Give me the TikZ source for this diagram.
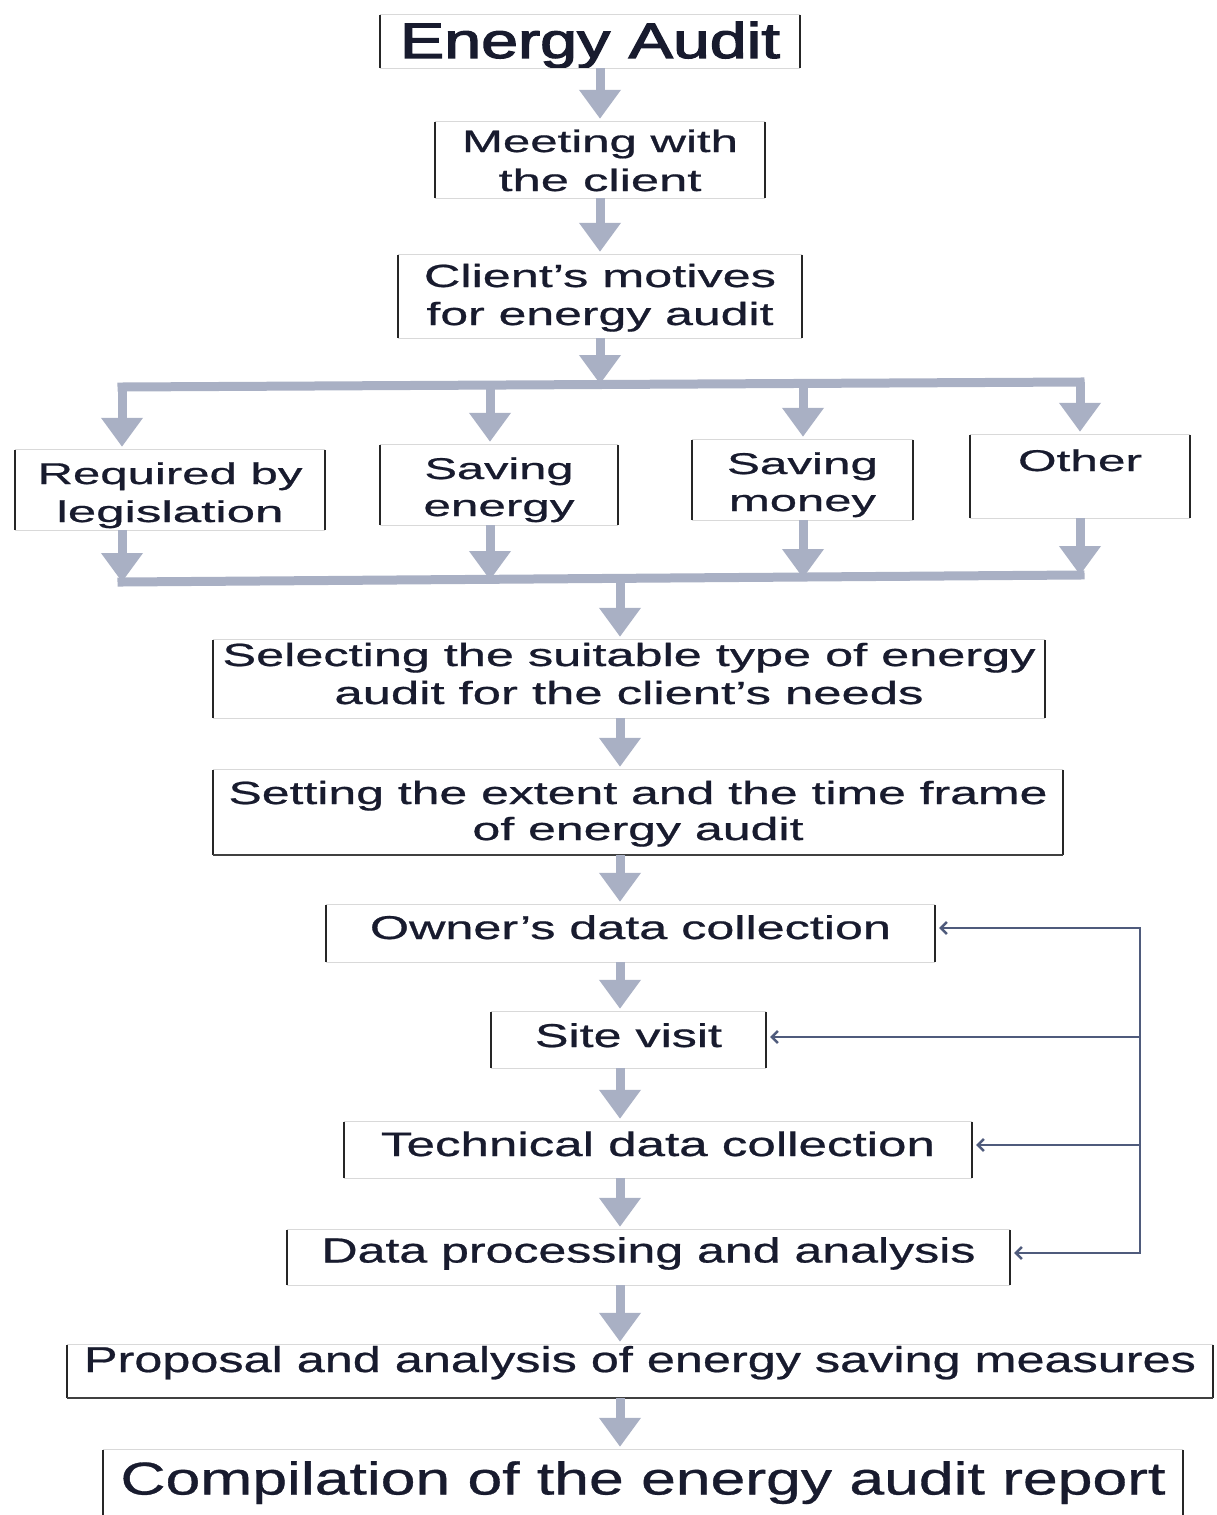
\documentclass[tikz,border=0pt]{standalone}
\usepackage{fontspec}
\setmainfont{Liberation Sans}[FakeBold=0.6]
\newfontfamily\titlefont{Liberation Sans}[FakeBold=2.2]
\usetikzlibrary{arrows.meta}
\definecolor{arrowc}{HTML}{A9B0C4}
\definecolor{txt}{HTML}{181B2E}
\definecolor{fbc}{HTML}{4F5B7C}
\newcommand{\fitw}[2]{\resizebox{#1}{\height}{#2}}
% one line, baseline raised by #1 above the box centre
\newcommand{\oneline}[2]{\raisebox{#1}[0pt][0pt]{#2}}
% two lines, baseline of the last line raised by #1 above the box centre
\newcommand{\twoline}[3]{\raisebox{#1}[0pt][0pt]{\begin{tabular}[b]{@{}c@{}}#2\\#3\end{tabular}}}
\begin{document}
\begin{tikzpicture}[x=1pt,y=-1pt,
 box/.style={inner sep=0pt, text=txt, font=\fontsize{32pt}{38pt}\selectfont},
 side/.style={draw=black!85, line width=1.8pt},
 faint/.style={draw=black!15, line width=1.2pt},
 darkbot/.style={draw=black!75, line width=1.5pt},
 big/.style={draw=arrowc, line width=9pt, -{Triangle[width=40pt,length=29pt]}, shorten >=3pt},
 bar/.style={draw=arrowc, line width=9pt, line cap=rect},
 fb/.style={draw=fbc, line width=2.4pt},
 fbarrow/.style={fb, -{Straight Barb[length=6pt,width=12pt]}, shorten >=4pt}]
\fill[white] (0,0) rectangle (1216,1515);
\useasboundingbox (0,0) rectangle (1216,1515);

% boxes
\node[box, minimum width=420pt, minimum height=53pt, font=\titlefont\fontsize{50pt}{60pt}\selectfont] (ea) at (590,41.5) {\oneline{-16.5pt}{\fitw{380pt}{Energy Audit}}};
\node[box, minimum width=330pt, minimum height=76pt, font=\fontsize{31pt}{39pt}\selectfont] (mc) at (600,160) {\twoline{-31pt}{\fitw{276pt}{Meeting with}}{\fitw{203pt}{the client}}};
\node[box, minimum width=404pt, minimum height=83pt, font=\fontsize{32pt}{38pt}\selectfont] (cm) at (600,296.5) {\twoline{-28.5pt}{\fitw{352pt}{Client’s motives}}{\fitw{347pt}{for energy audit}}};

\node[box, minimum width=310pt, minimum height=80pt, font=\fontsize{30pt}{38pt}\selectfont] (r1) at (170,490) {\twoline{-32pt}{\fitw{265pt}{Required by}}{\fitw{227pt}{legislation}}};
\node[box, minimum width=238pt, minimum height=80pt, font=\fontsize{30pt}{37pt}\selectfont] (r2) at (499,485) {\twoline{-31pt}{\fitw{149pt}{Saving}}{\fitw{151pt}{energy}}};
\node[box, minimum width=221pt, minimum height=80pt, font=\fontsize{30pt}{37pt}\selectfont] (r3) at (802.5,480) {\twoline{-31pt}{\fitw{151pt}{Saving}}{\fitw{147pt}{money}}};
\node[box, minimum width=220pt, minimum height=83pt, font=\fontsize{30pt}{38pt}\selectfont] (r4) at (1080,476.5) {\oneline{5.5pt}{\fitw{124pt}{Other}}};

\node[box, minimum width=832pt, minimum height=78pt, font=\fontsize{32pt}{38pt}\selectfont] (sel) at (629,679) {\twoline{-25pt}{\fitw{813pt}{Selecting the suitable type of energy}}{\fitw{589pt}{audit for the client’s needs}}};
\node[box, minimum width=850pt, minimum height=85pt, font=\fontsize{32pt}{36pt}\selectfont] (set) at (638,812.5) {\twoline{-27.5pt}{\fitw{819pt}{Setting the extent and the time frame}}{\fitw{331pt}{of energy audit}}};
\node[box, minimum width=609pt, minimum height=57pt, font=\fontsize{33pt}{38pt}\selectfont] (own) at (630.5,933.5) {\oneline{-5.5pt}{\fitw{521pt}{Owner’s data collection}}};
\node[box, minimum width=275pt, minimum height=56pt, font=\fontsize{33pt}{38pt}\selectfont] (site) at (628.5,1040) {\oneline{-7pt}{\fitw{187pt}{Site visit}}};
\node[box, minimum width=628pt, minimum height=56pt, font=\fontsize{34pt}{38pt}\selectfont] (tech) at (658,1150) {\oneline{-6pt}{\fitw{554pt}{Technical data collection}}};
\node[box, minimum width=723pt, minimum height=55pt, font=\fontsize{35pt}{38pt}\selectfont] (dp) at (648.5,1257.5) {\oneline{-5pt}{\fitw{654pt}{Data processing and analysis}}};
\node[box, minimum width=1146pt, minimum height=53pt, font=\fontsize{36pt}{40pt}\selectfont] (prop) at (640,1371.5) {\oneline{-0.5pt}{\fitw{1112pt}{Proposal and analysis of energy saving measures}}};
\node[box, minimum width=1080pt, minimum height=65pt, font=\fontsize{46pt}{50pt}\selectfont] (comp) at (643,1482.5) {\oneline{-12pt}{\fitw{1045pt}{Compilation of the energy audit report}}};

\foreach \n in {ea,mc,cm,r1,r2,r3,r4,sel,set,own,site,tech,dp,prop,comp}{
  \draw[faint] (\n.north west) -- (\n.north east) (\n.south west) -- (\n.south east);
  \draw[side] (\n.north west) -- (\n.south west) (\n.north east) -- (\n.south east);
}
\draw[darkbot] (set.south west) -- (set.south east);
\draw[darkbot] (prop.south west) -- (prop.south east);

% top chain
\draw[big] (ea.south -| mc.north) -- (mc.north);
\draw[big] (mc.south) -- (cm.north);
\coordinate (t0) at (600,384);
\draw[big, shorten >=0pt] (cm.south) -- (t0);

% split bar
\coordinate (b1) at (122,387);
\coordinate (b2) at (490,386);
\coordinate (b3) at (803,384);
\coordinate (b4) at (1080,382);
\draw[bar] (b1) -- (b4);
\draw[big] (b1) -- (b1 |- r1.north);
\draw[big] (b2) -- (b2 |- r2.north);
\draw[big] (b3) -- (b3 |- r3.north);
\draw[big] (b4) -- (b4 |- r4.north);

% merge bar
\coordinate (c1) at (122,582);
\coordinate (c2) at (490,580);
\coordinate (c3) at (803,578);
\coordinate (c4) at (1080,575);
\draw[big, shorten >=0pt] (r1.south -| c1) -- (c1);
\draw[big, shorten >=0pt] (r2.south -| c2) -- (c2);
\draw[big, shorten >=0pt] (r3.south -| c3) -- (c3);
\draw[big, shorten >=0pt] (r4.south -| c4) -- (c4);
\draw[bar] (c1) -- (c4);

% lower chain
\coordinate (m0) at (620,580);
\coordinate (col) at (620,0);
\draw[big] (m0) -- (m0 |- sel.north);
\draw[big] (sel.south -| col) -- (set.north -| col);
\draw[big] (set.south -| col) -- (own.north -| col);
\draw[big] (own.south -| col) -- (site.north -| col);
\draw[big] (site.south -| col) -- (tech.north -| col);
\draw[big] (tech.south -| col) -- (dp.north -| col);
\draw[big] (dp.south -| col) -- (prop.north -| col);
\draw[big] (prop.south -| col) -- (comp.north -| col);

% feedback
\coordinate (f1) at (1140,928);
\coordinate (f2) at (1140,1037);
\coordinate (f3) at (1140,1145);
\coordinate (f4) at (1140,1253);
\draw[fb, line cap=rect] (f1) -- (f4);
\draw[fbarrow] (f1) -- (f1 -| own.east);
\draw[fbarrow] (f2) -- (f2 -| site.east);
\draw[fbarrow] (f3) -- (f3 -| tech.east);
\draw[fbarrow] (f4) -- (f4 -| dp.east);
\end{tikzpicture}
\end{document}
